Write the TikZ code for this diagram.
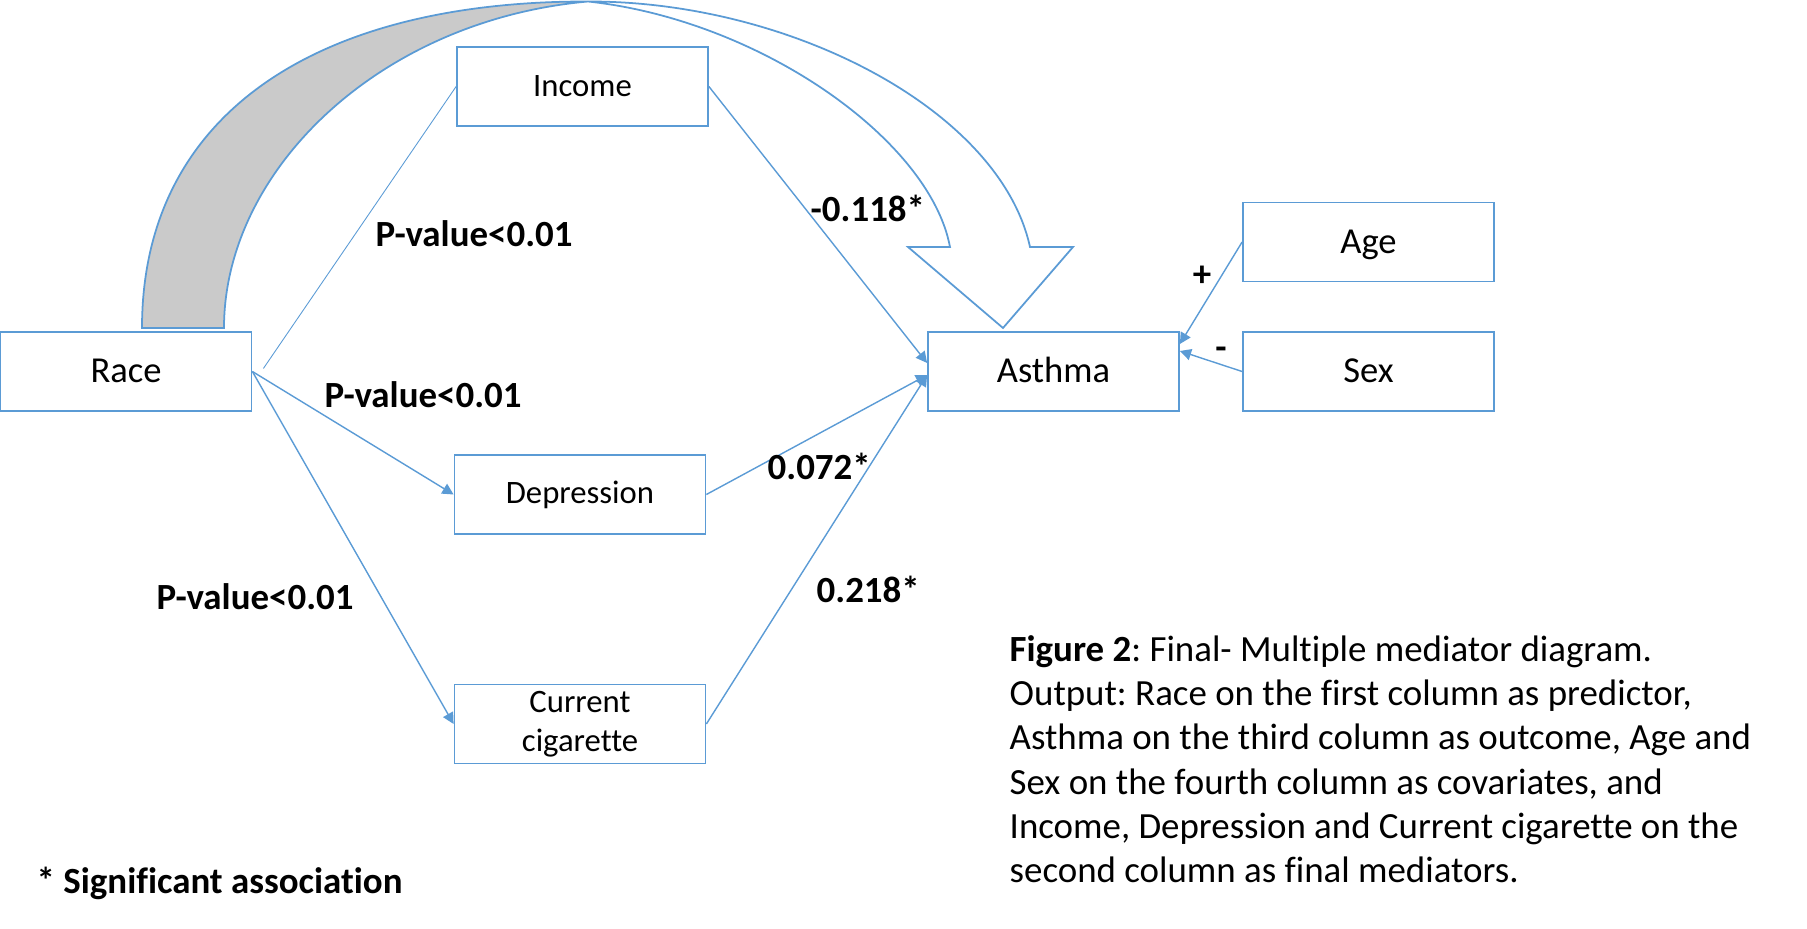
\documentclass[tikz,border=0pt]{standalone}
\usepackage{fontspec}
\setmainfont{Carlito}[Ligatures={TeX,NoCommon}]
\usetikzlibrary{arrows.meta,positioning}
\definecolor{boxblue}{HTML}{5B9BD5}
\definecolor{backgray}{HTML}{CACACA}
\frenchspacing

\begin{document}
\begin{tikzpicture}[x=0.1mm, y=-0.1mm,
  box node/.style={rectangle,draw=boxblue,line width=0.5pt,minimum width=25.1mm,minimum height=7.9mm,inner sep=1pt},
  var node/.style={box node,text height=0.64em,text depth=0pt,font=\fontsize{10.4}{12.5}\selectfont},
  med node/.style={box node,align=center,font=\fontsize{9.3}{11.1}\selectfont},
  path line/.style={draw=boxblue,line width=0.4pt,-{Triangle[length=3.2pt,width=3.2pt]}},
  coef/.style={anchor=base west,inner sep=0pt,font=\fontsize{10.5}{12.6}\selectfont\bfseries}]
\useasboundingbox (0,0) rectangle (1807,929);
% big curved arrow (back part grey, front part white)
\filldraw[fill=backgray,draw=boxblue,line width=0.5pt] (142,328) .. controls (142,115) and (315,1) .. (588,1.5) .. controls (380,20) and (224,170) .. (224,328) -- cycle;
\filldraw[fill=white,draw=boxblue,line width=0.5pt] (588,1.5) .. controls (790,1) and (1000,110) .. (1030,247) -- (1073,247) -- (1003,328) -- (908,247) -- (950,247) .. controls (930,140) and (760,20) .. (588,1.5) -- cycle;
% variables
\node[var node] (race) at (126,371.5) {Race};
\node[med node] (income) at (582.5,86.5) {Income};
\node[med node] (depr) at (580,494.5) {Depression};
\node[med node] (cig) at (580,724) {Current\\cigarette};
\node[var node] (asthma) at (1053.5,371.5) {Asthma};
\node[var node] (age) at (1368.5,242) {Age};
\node[var node] (sex) at (1368.5,371.5) {Sex};
% paths
\draw[draw=boxblue,line width=0.25pt] ([xshift=1.1mm,yshift=0.3mm]race.east) -- (income.west);
\draw[path line] (race.east) -- (depr.west);
\draw[path line] (race.east) -- (cig.west);
\draw[path line] (income.east) -- ([yshift=0.85mm]asthma.west);
\draw[path line] (depr.east) -- ([yshift=-0.35mm]asthma.west);
\draw[path line] (cig.east) -- ([yshift=-0.35mm]asthma.west);
\draw[path line] (age.west) -- ([yshift=2.75mm]asthma.east);
\draw[path line] (sex.west) -- ([yshift=2.05mm]asthma.east);
% coefficients
\node[coef] (p1) at (375,247) {P-value<0.01};
\node[coef] (p2) at (324,408) {P-value<0.01};
\node[coef] (p3) at (156,610) {P-value<0.01};
\node[coef] (c1) at (810,222) {-0.118*};
\node[coef] (c2) at (767,480) {0.072*};
\node[coef] (c3) at (816,602) {0.218*};
\node[coef,anchor=base] (plus) at (1202,287) {+};
\node[coef,anchor=base] (minus) at (1221,360) {-};
% notes
\node[coef] (note) at (36,893) {* Significant association};
\node[anchor=base west,align=left,inner sep=0pt,font=\fontsize{10.5}{12.6}\selectfont] (caption) at (1009,882.7) {\textbf{Figure 2}: Final- Multiple mediator diagram.\\Output: Race on the first column as predictor,\\Asthma on the third column as outcome, Age and\\Sex on the fourth column as covariates, and\\Income, Depression and Current cigarette on the\\second column as final mediators.};
\end{tikzpicture}
\end{document}
